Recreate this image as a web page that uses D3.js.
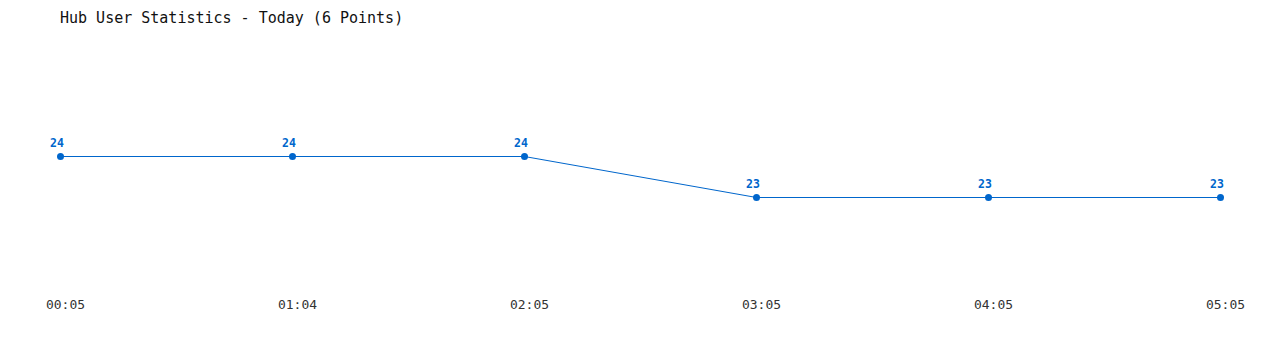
<!DOCTYPE html>
<html>
<head>
<meta charset="utf-8">
<script src="https://cdn.jsdelivr.net/npm/d3@7"></script>
<style>
    html, body { margin: 0; padding: 0; background: #fff; }
    svg { display: block; }
    .title { font-family: "DejaVu Sans Mono", monospace; font-size: 15px; fill: #111; }
    .valueLabel { font-family: "DejaVu Sans Mono", monospace; font-size: 11.5px; font-weight: bold; fill: #0066cc; }
    .timeLabel { font-family: "DejaVu Sans Mono", monospace; font-size: 13px; fill: #333; }
</style>
</head>
<body>
<div id="chart"></div>
<script>
"use strict"

// chart data
let times = ["00:05", "01:04", "02:05", "03:05", "04:05", "05:05"];
let users = [24, 24, 24, 23, 23, 23];

let width = 1280,
    height = 350;

let svg = d3.select("#chart").append("svg")
    .attr("width", width)
    .attr("height", height);

let xScale = d3.scalePoint()
    .domain(times)
    .range([60, 1220]);

let yScale = d3.scaleLinear()
    .domain([21, 26])
    .range([279, 74]);

// title
svg.append("text")
    .attr("class", "title")
    .attr("x", 60)
    .attr("y", 23)
    .text("Hub User Statistics - Today (" + users.length + " Points)");

let points = times.map((t, i) => ({ t: t, v: users[i] }));

// half pixel shift so the 1px line stays crisp
let plot = svg.append("g")
    .attr("transform", "translate(0.5, 0.5)");

let line = d3.line()
    .x(d => xScale(d.t))
    .y(d => yScale(d.v));

plot.append("path")
    .datum(points)
    .attr("d", line)
    .style("fill", "none")
    .style("stroke", "#0066cc")
    .style("stroke-width", "1px");

plot.selectAll(".dot")
    .data(points)
    .enter().append("circle")
    .attr("class", "dot")
    .attr("cx", d => xScale(d.t))
    .attr("cy", d => yScale(d.v))
    .attr("r", 3.5)
    .style("fill", "#0066cc");

// value labels above each point
svg.selectAll(".valueLabel")
    .data(points)
    .enter().append("text")
    .attr("class", "valueLabel")
    .attr("x", d => xScale(d.t) - 3)
    .attr("y", d => yScale(d.v) - 9)
    .style("text-anchor", "middle")
    .text(d => d.v);

// time labels along the bottom
let xAxis = d3.axisBottom(xScale).tickSize(0).tickPadding(0);

let axisGroup = svg.append("g")
    .attr("transform", "translate(5, 299)")
    .call(xAxis);

axisGroup.select(".domain").remove();
axisGroup.selectAll("text")
    .attr("class", "timeLabel")
    .attr("dy", "0.73em")
    .attr("fill", null)
    .style("font-family", null)
    .style("font-size", null);
axisGroup.attr("font-family", null).attr("font-size", null);
</script>
</body>
</html>
